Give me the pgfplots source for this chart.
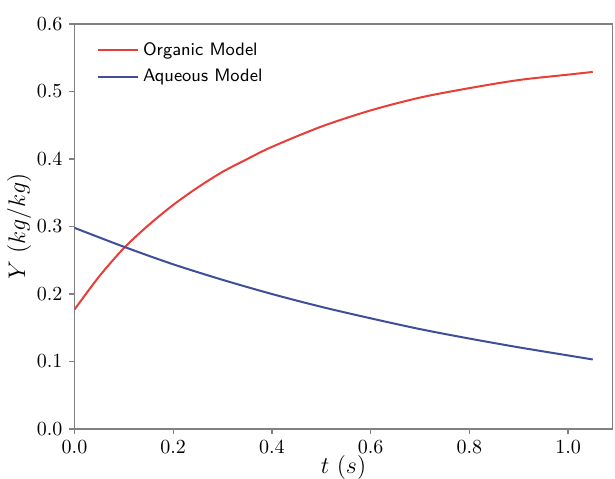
\documentclass[border=0pt]{standalone}
\usepackage{pgfplots}
\pgfplotsset{compat=1.18}
\usetikzlibrary{calc}

\definecolor{orgred}{RGB}{232,62,56}
\definecolor{aqblue}{RGB}{62,78,152}
\definecolor{spine}{RGB}{128,128,128}

\begin{document}
\begin{tikzpicture}
  \begin{axis}[
    name=ax,
    scale only axis,
    width=269pt, height=202.5pt,
    xmin=0, xmax=1.09,
    ymin=0, ymax=0.6,
    xtick={0,0.2,0.4,0.6,0.8,1.0},
    ytick={0,0.1,0.2,0.3,0.4,0.5,0.6},
    xticklabel style={/pgf/number format/.cd,fixed,fixed zerofill,precision=1},
    yticklabel style={/pgf/number format/.cd,fixed,fixed zerofill,precision=1},
    tick align=outside,
    major tick length=2.5pt,
    tick style={spine, line width=0.6pt},
    axis line style={spine, line width=0.9pt},
    ticklabel style={font=\fontsize{10}{10}\selectfont},
    xtick pos=bottom, ytick pos=left,
    xlabel={$t\ (s)$},
    ylabel={$Y\ (kg/kg)$},
    label style={font=\fontsize{11.5}{11.5}\selectfont},
    xlabel style={yshift=6pt},
    ylabel style={yshift=-4pt},
    legend style={draw=none, fill=none, at={(0.03,0.975)}, anchor=north west,
      font=\sffamily\fontsize{9}{10}\selectfont, row sep=1.5pt},
    legend cell align=left,
    legend image code/.code={\draw[#1, line width=1pt] (0pt,0pt) -- (20pt,0pt);},
  ]
    % organic phase
    \addplot[orgred, line width=1pt, smooth] coordinates {
      (0.00, 0.177) (0.05, 0.226) (0.10, 0.268) (0.15, 0.302) (0.20, 0.332)
      (0.25, 0.358) (0.30, 0.381) (0.35, 0.400) (0.40, 0.418) (0.50, 0.448)
      (0.60, 0.472) (0.70, 0.491) (0.80, 0.505) (0.90, 0.517) (1.00, 0.525)
      (1.05, 0.529)
    };
    \addlegendentry{Organic Model}

    % aqueous phase
    \addplot[aqblue, line width=1pt, smooth] coordinates {
      (0.00, 0.298) (0.10, 0.270) (0.20, 0.244) (0.30, 0.221) (0.40, 0.200)
      (0.50, 0.181) (0.60, 0.164) (0.70, 0.148) (0.80, 0.134) (0.90, 0.121)
      (1.00, 0.109) (1.05, 0.103)
    };
    \addlegendentry{Aqueous Model}
  \end{axis}
  \pgfresetboundingbox
  \path[use as bounding box] ($(ax.south west)+(-37.25pt,-24.5pt)$) rectangle ++(307.5pt,239pt);
\end{tikzpicture}
\end{document}
